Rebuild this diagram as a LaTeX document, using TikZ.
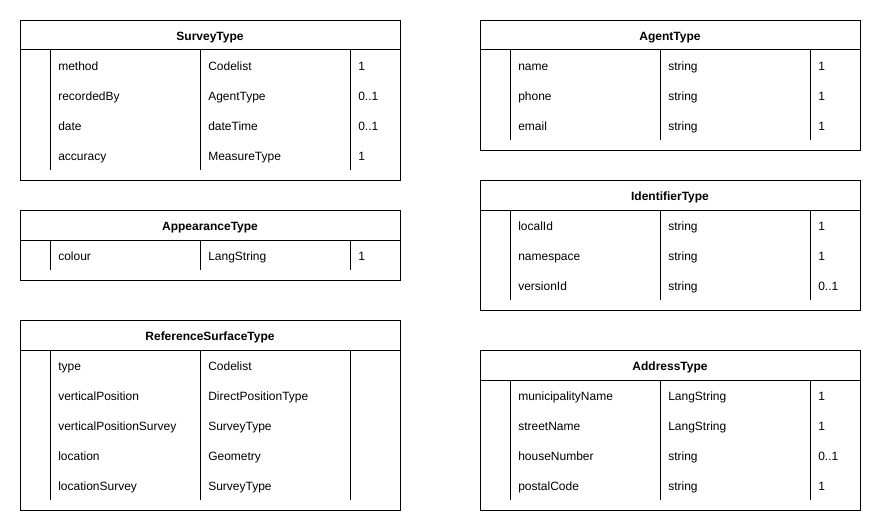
\documentclass[tikz,border=0pt]{standalone}
\usepackage{fontspec}
\setmainfont{Liberation Sans}
\begin{document}
\begin{tikzpicture}[x=0.75pt,y=-0.75pt,
  tabbox/.style={draw=black,line width=0.75pt,inner sep=0pt,anchor=north west,minimum width=285pt},
  tline/.style={draw=black,line width=0.75pt},
  ttitle/.style={font=\fontsize{9pt}{10pt}\selectfont\bfseries,inner sep=0pt,text height=6.6pt,text depth=1.9pt},
  cell/.style={font=\fontsize{9pt}{10pt}\selectfont,inner sep=0pt,anchor=west,text height=6.6pt,text depth=1.9pt}]
\useasboundingbox (0,0) rectangle (881,531);
\newcommand\umltab[6]{%
  \node[tabbox,minimum height={(40+30*#4)*0.75pt}] (#1) at (#2,#3) {};
  \node[ttitle] (#1-t) at ({#2+190},{#3+17}) {#5};
  \draw[tline] ({#2},{#3+30}) -- ++(380,0);
  \foreach \xx in {30,180,330} {\draw[tline] ({#2+\xx},{#3+30}) -- ++(0,{30*#4});}
  \foreach \a/\b/\c [count=\i] in {#6} {
    \node[cell] (#1-a\i) at ({#2+38},{#3+17+30*\i}) {\a};
    \node[cell] (#1-b\i) at ({#2+188},{#3+17+30*\i}) {\b};
    \node[cell] (#1-c\i) at ({#2+338},{#3+17+30*\i}) {\c};
  }}
\umltab{survey}{20}{20}{4}{SurveyType}{method/Codelist/1,recordedBy/AgentType/0..1,date/dateTime/0..1,accuracy/MeasureType/1}
\umltab{appear}{20}{210}{1}{AppearanceType}{colour/LangString/1}
\umltab{refsurf}{20}{320}{5}{ReferenceSurfaceType}{type/Codelist/{},verticalPosition/DirectPositionType/{},verticalPositionSurvey/SurveyType/{},location/Geometry/{},locationSurvey/SurveyType/{}}
\umltab{agent}{480}{20}{3}{AgentType}{name/string/1,phone/string/1,email/string/1}
\umltab{ident}{480}{180}{3}{IdentifierType}{localId/string/1,namespace/string/1,versionId/string/0..1}
\umltab{address}{480}{350}{4}{AddressType}{municipalityName/LangString/1,streetName/LangString/1,houseNumber/string/0..1,postalCode/string/1}
\end{tikzpicture}
\end{document}
